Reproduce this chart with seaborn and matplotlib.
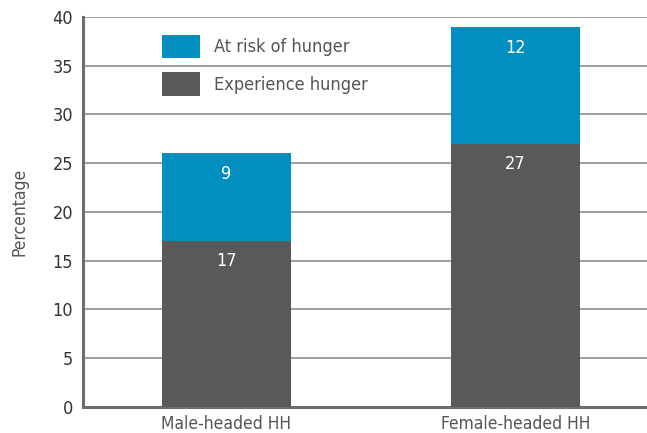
import matplotlib
matplotlib.use("Agg")
import matplotlib.pyplot as plt
import seaborn as sns
import pandas as pd

groups = ["Male-headed HH", "Female-headed HH"]
experience = [17, 27]
at_risk = [9, 12]

blue = "#008fbf"
dark = "#59595b"
text_grey = "#555555"

sns.set_style("white")
plt.rcParams["font.family"] = ["DejaVu Sans"]
plt.rcParams["font.stretch"] = "condensed"

df = pd.DataFrame({"group": groups, "experience": experience, "at_risk": at_risk})
df["total"] = df["experience"] + df["at_risk"]

fig = plt.figure(figsize=(6.47, 4.33), dpi=100)
ax = fig.add_axes([0.128, 0.060, 0.872, 0.901])

sns.barplot(data=df, x="group", y="total", color=blue, width=0.446,
            saturation=1, ax=ax, label="At risk of hunger", zorder=3, linewidth=0)
sns.barplot(data=df, x="group", y="experience", color=dark, width=0.446,
            saturation=1, ax=ax, label="Experience hunger", zorder=3, linewidth=0)

# value labels inside the segments
for i, (e, r) in enumerate(zip(experience, at_risk)):
    ax.annotate(str(r), (i, e + r), xytext=(0, -21), textcoords="offset pixels",
                ha="center", va="center", color="white", fontsize=13)
    ax.annotate(str(e), (i, e), xytext=(0, -20), textcoords="offset pixels",
                ha="center", va="center", color="white", fontsize=13)

ax.set_ylim(0, 40)
ax.set_xlim(-0.497, 1.455)
ax.set_yticks(range(0, 41, 5))
ax.yaxis.grid(True, color="#8c8c8c", linewidth=1.2, zorder=0)
ax.set_axisbelow(True)

for s in ["top", "right"]:
    ax.spines[s].set_visible(False)
ax.spines["left"].set_color("#6e6e6e")
ax.spines["left"].set_linewidth(2.2)
ax.spines["bottom"].set_color("#6e6e6e")
ax.spines["bottom"].set_linewidth(2.2)

ax.tick_params(axis="both", length=0, labelsize=13, colors="#333333")
ax.tick_params(axis="y", pad=7)
ax.tick_params(axis="x", labelsize=12.5, pad=6, colors=text_grey)
ax.set_xlabel("")
ax.set_ylabel("Percentage", fontsize=12.5, color=text_grey, labelpad=17)

ax.legend(loc="upper left", bbox_to_anchor=(0.111, 0.996), frameon=False,
          fontsize=13, labelcolor=text_grey, handlelength=2.1, handleheight=1.6,
          handletextpad=0.8, labelspacing=0.8)

fig.savefig("out.png", dpi=100)
